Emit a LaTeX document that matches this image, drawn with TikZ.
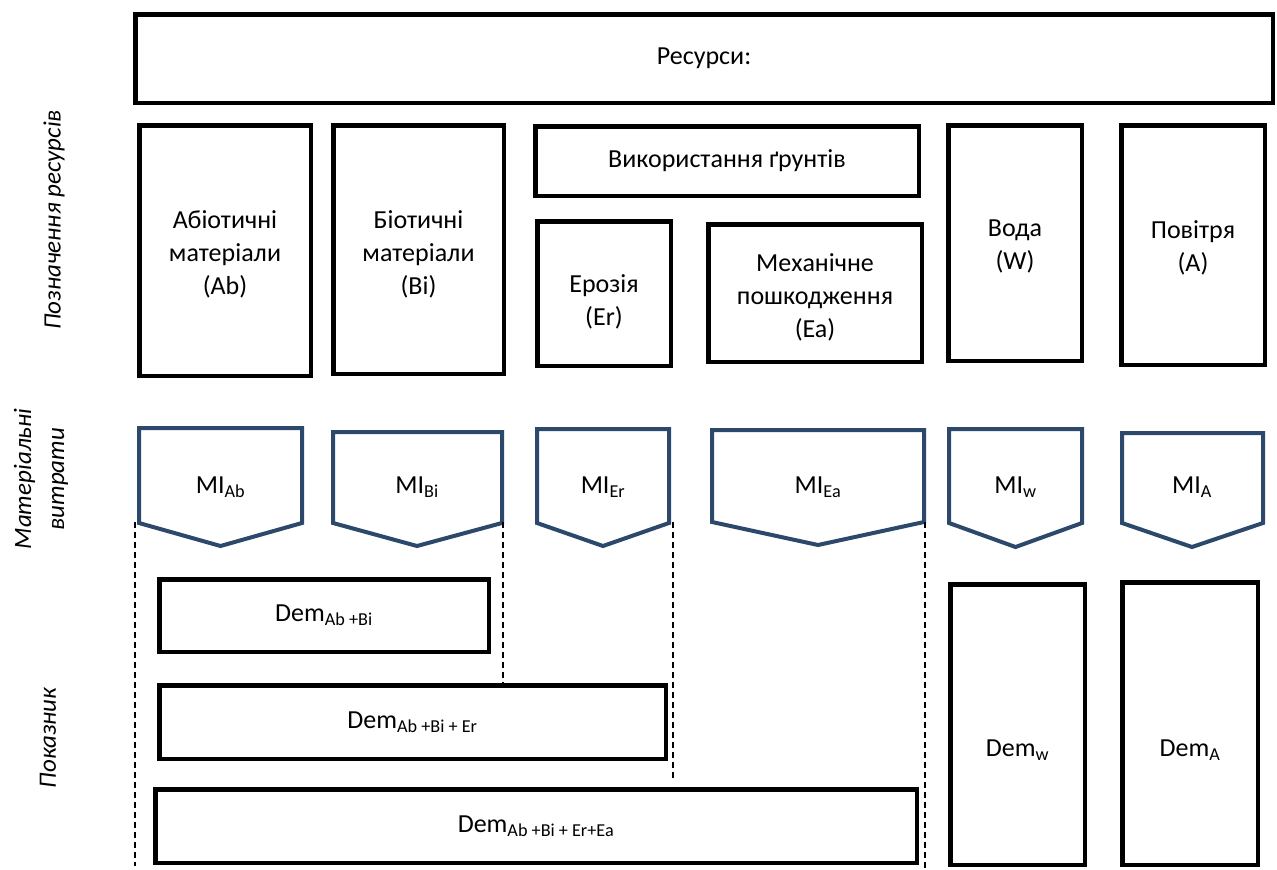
\documentclass[tikz,border=0pt]{standalone}
\usepackage{fontspec}
\setmainfont{Carlito}
\definecolor{miblue}{RGB}{44,72,106}
\begin{document}
\begin{tikzpicture}[x=1pt,y=-1pt,
  txt/.style={font=\fontsize{26}{33}\selectfont, align=center, inner sep=0pt},
  box/.style={txt, draw=black, line width=4.5pt},
  mishape/.style={draw=miblue, line width=4pt, line join=miter},
  sidelabel/.style={txt, font=\fontsize{25}{33}\selectfont\itshape, rotate=90},
  dashline/.style={draw=black, line width=1.4pt, dash pattern=on 6pt off 4pt}]
\useasboundingbox (0,0) rectangle (1277,870);

% top
\node[box, minimum width=1137.5, minimum height=88.5] (res) at (704,58.5) {Ресурси:};

% resources row
\node[box, minimum width=171.5, minimum height=250.5] (ab) at (225,250.5) {};
\node[txt] (abtxt) at (225,254) {Абіотичні\\матеріали\\(Ab)};
\node[box, minimum width=170.5, minimum height=248.5] (bi) at (418.5,249.5) {};
\node[txt] (bitxt) at (418.5,254) {Біотичні\\матеріали\\(Bi)};
\node[box, minimum width=383.5, minimum height=69.5] (soil) at (727,161) {Використання ґрунтів};
\node[box, minimum width=133.5, minimum height=144.5] (er) at (604,293.5) {};
\node[txt] (ertxt) at (604,302) {Ерозія\\(Er)};
\node[box, minimum width=213.5, minimum height=137.5] (ea) at (815,293) {};
\node[txt] (eatxt) at (815,297) {Механічне\\пошкодження\\(Ea)};
\node[box, minimum width=133.5, minimum height=235.5] (wat) at (1015,243) {};
\node[txt] (wattxt) at (1015,246) {Вода\\(W)};
\node[box, minimum width=143.5, minimum height=239.5] (air) at (1193,245) {};
\node[txt] (airtxt) at (1193,248) {Повітря\\(A)};

% side labels
\node[sidelabel] (lab1) at (54,220) {Позначення ресурсів};
\node[sidelabel] (lab2) at (41,479) {Матеріальні\\витрати};
\node[sidelabel] (lab3) at (48,738) {Показник};

% MI pentagons
\draw[mishape] (139,428) -- (302,428) -- (302,523) -- (220.5,546) -- (139,523) -- cycle;
\node[txt] (miab) at (220.5,487) {MI\textsubscript{Ab}};
\draw[mishape] (333,432) -- (502,432) -- (502,523) -- (417,546) -- (333,523) -- cycle;
\node[txt] (mibi) at (417,487) {MI\textsubscript{Bi}};
\draw[mishape] (537,429) -- (669,429) -- (669,523) -- (603,546) -- (537,523) -- cycle;
\node[txt] (mier) at (603,487) {MI\textsubscript{Er}};
\draw[mishape] (712,430) -- (924,430) -- (924,522) -- (818,545) -- (712,522) -- cycle;
\node[txt] (miea) at (818,487) {MI\textsubscript{Ea}};
\draw[mishape] (949,429) -- (1082,429) -- (1082,523) -- (1015.5,547) -- (949,523) -- cycle;
\node[txt] (miw) at (1015.5,487) {MI\textsubscript{w}};
\draw[mishape] (1122,433) -- (1263,433) -- (1263,523) -- (1192,547) -- (1122,523) -- cycle;
\node[txt] (mia) at (1192,487) {MI\textsubscript{A}};

% indicator boxes
\node[box, minimum width=329.5, minimum height=72.5] (demab) at (324,615.5) {Dem\textsubscript{Ab +Bi}};
\node[box, minimum width=506.5, minimum height=73.5] (demer) at (412.5,722) {Dem\textsubscript{Ab +Bi + Er}};
\node[box, minimum width=761.5, minimum height=73.5] (demea) at (536,826) {Dem\textsubscript{Ab +Bi + Er+Ea}};
\node[box, minimum width=134.5, minimum height=280.5] (demw) at (1017.5,724.5) {};
\node[txt] (demwtxt) at (1017.5,750) {Dem\textsubscript{w}};
\node[box, minimum width=135.5, minimum height=282.5] (dema) at (1190,723.5) {};
\node[txt] (dematxt) at (1190,750) {Dem\textsubscript{A}};

% dashed guide lines
\coordinate (g1a) at (135,522); \coordinate (g1b) at (135,866);
\coordinate (g2a) at (503,522); \coordinate (g2b) at (503,683);
\coordinate (g3a) at (673,522); \coordinate (g3b) at (673,781);
\coordinate (g4a) at (925,522); \coordinate (g4b) at (925,868);
\draw[dashline] (g1a) -- (g1b);
\draw[dashline] (g2a) -- (g2b);
\draw[dashline] (g3a) -- (g3b);
\draw[dashline] (g4a) -- (g4b);
\end{tikzpicture}
\end{document}
